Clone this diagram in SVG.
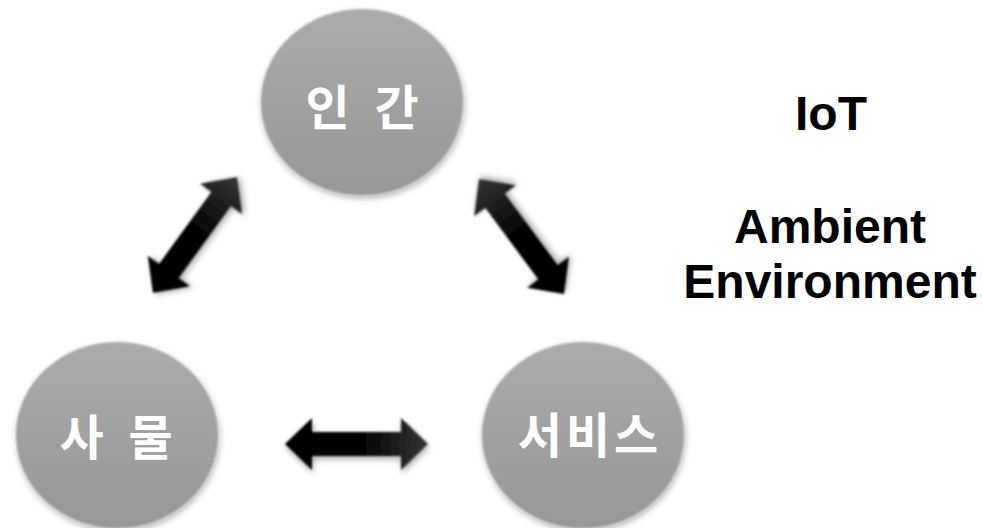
<svg xmlns="http://www.w3.org/2000/svg" width="982" height="528" viewBox="0 0 982 528">
  <defs>
    <linearGradient id="ballFill" x1="0" y1="0" x2="0" y2="1">
      <stop offset="0" stop-color="#ababab"/>
      <stop offset="1" stop-color="#979797"/>
    </linearGradient>
    <linearGradient id="arrowFill" x1="0" y1="0" x2="1" y2="0">
      <stop offset="0" stop-color="#000000"/>
      <stop offset="0.55" stop-color="#050505"/>
      <stop offset="1" stop-color="#353535"/>
    </linearGradient>
    <filter id="softShadow" x="-20%" y="-20%" width="140%" height="140%">
      <feGaussianBlur in="SourceGraphic" stdDeviation="0.8" result="soft"/>
      <feDropShadow in="soft" dx="1" dy="3" stdDeviation="3" flood-color="#000" flood-opacity="0.35"/>
    </filter>
    <path id="dblArrow" d="M-71.5,0 L-44.5,-26 L-44.5,-12 L44.5,-12 L44.5,-26 L71.5,0 L44.5,26 L44.5,12 L-44.5,12 L-44.5,26 Z"/>
  </defs>
  <style>
    .ball { fill: url(#ballFill); filter: url(#softShadow); }
    .ballLabel { font-family: "Noto Sans CJK KR", "Noto Sans", sans-serif; font-weight: 700; font-size: 48px; letter-spacing: 4px; word-spacing: 6px; fill: #ffffff; text-anchor: middle; dominant-baseline: central; }
    .arrow { fill: url(#arrowFill); filter: url(#softShadow); }
    .side { font-family: "Liberation Sans", Arial, sans-serif; font-weight: 700; font-size: 48px; fill: #000000; text-anchor: middle; }
  </style>
  <rect width="982" height="528" fill="#ffffff"/>

  <g id="node-human">
    <ellipse class="ball" cx="362" cy="102" rx="101" ry="93"/>
    <text class="ballLabel" x="364" y="104">인 간</text>
  </g>
  <g id="node-things">
    <ellipse class="ball" cx="117" cy="435" rx="101" ry="93"/>
    <text class="ballLabel" x="118" y="434">사 물</text>
  </g>
  <g id="node-service">
    <ellipse class="ball" cx="583" cy="435" rx="101" ry="93"/>
    <text class="ballLabel" x="590" y="432">서비스</text>
  </g>

  <g id="connectors">
    <use href="#dblArrow" class="arrow" transform="translate(195,235) rotate(-54)"/>
    <use href="#dblArrow" class="arrow" transform="translate(521.5,236.5) rotate(233.5)"/>
    <use href="#dblArrow" class="arrow" transform="translate(356.5,444)"/>
  </g>

  <g id="caption">
    <text class="side" x="831" y="130">IoT</text>
    <text class="side" x="830" y="243">Ambient</text>
    <text class="side" x="830" y="298">Environment</text>
  </g>
</svg>
